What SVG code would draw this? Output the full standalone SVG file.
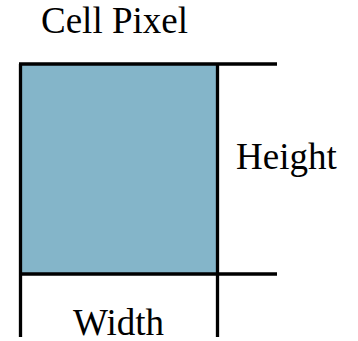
<svg xmlns="http://www.w3.org/2000/svg" width="358" height="341" viewBox="0 0 358 341">
<style>
.t{font-family:"Liberation Serif","Times New Roman",serif;font-size:37px;fill:#000}
.ln{stroke:#000;stroke-width:3.3;fill:none}
</style>
<rect width="358" height="341" fill="#fff"/>
<g id="cell">
<rect x="20.5" y="64" width="197.5" height="210" fill="#84b5c9"/>
</g>
<g id="connectors">
<line class="ln" x1="19" y1="64" x2="277" y2="64"/>
<line class="ln" x1="19" y1="274" x2="277" y2="274"/>
<line class="ln" x1="20.5" y1="64" x2="20.5" y2="337"/>
<line class="ln" x1="217.5" y1="64" x2="217.5" y2="337"/>
</g>
<g id="labels">
<text class="t" x="41" y="33">Cell Pixel</text>
<text class="t" x="236" y="169">Height</text>
<text class="t" x="73" y="335">Width</text>
</g>
</svg>
